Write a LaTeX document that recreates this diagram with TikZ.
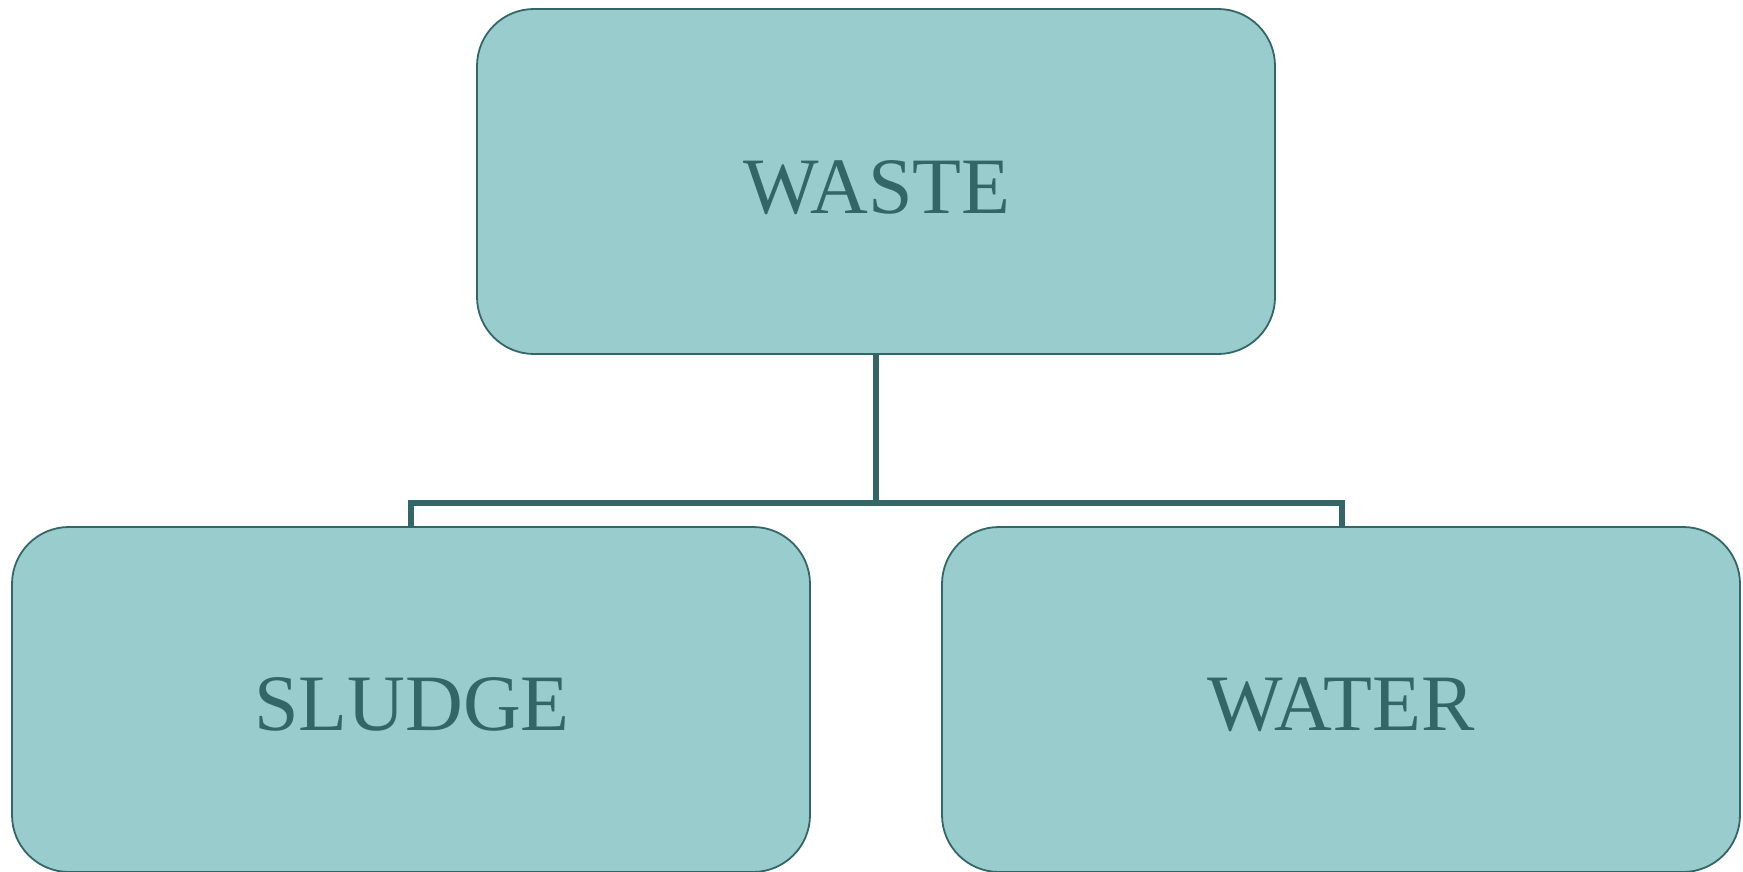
\documentclass[tikz,border=0pt]{standalone}
\usepackage{fontspec}
\setmainfont{Liberation Serif}
\definecolor{boxfill}{RGB}{153,204,204}
\definecolor{darkteal}{RGB}{51,102,102}
\begin{document}
\begin{tikzpicture}[x=1pt,y=-1pt,
  box/.style={draw=darkteal,line width=1.8pt,fill=boxfill,rounded corners=57pt,
    minimum width=798pt,minimum height=345pt,inner sep=0pt},
  lbl/.style={text=darkteal,font=\fontsize{80}{80}\selectfont,inner sep=0pt,anchor=base},
  conn/.style={draw=darkteal,line width=5.5pt}]
\useasboundingbox (0,0) rectangle (1743,872);
\node[box] (waste) at (876,181.5) {};
\node[box] (sludge) at (411,699.5) {};
\node[box] (water) at (1341,699.5) {};
\node[lbl] (twaste) at (877,213) {WASTE};
\node[lbl] (tsludge) at (412,730) {SLUDGE};
\node[lbl] (twater) at (1341,730) {WATER};
\coordinate (j) at (876,503);
\draw[conn] (waste.south) -- (j);
\draw[conn] (411,527) -- (411,503) -- (1342,503) -- (1342,527);
\end{tikzpicture}
\end{document}
